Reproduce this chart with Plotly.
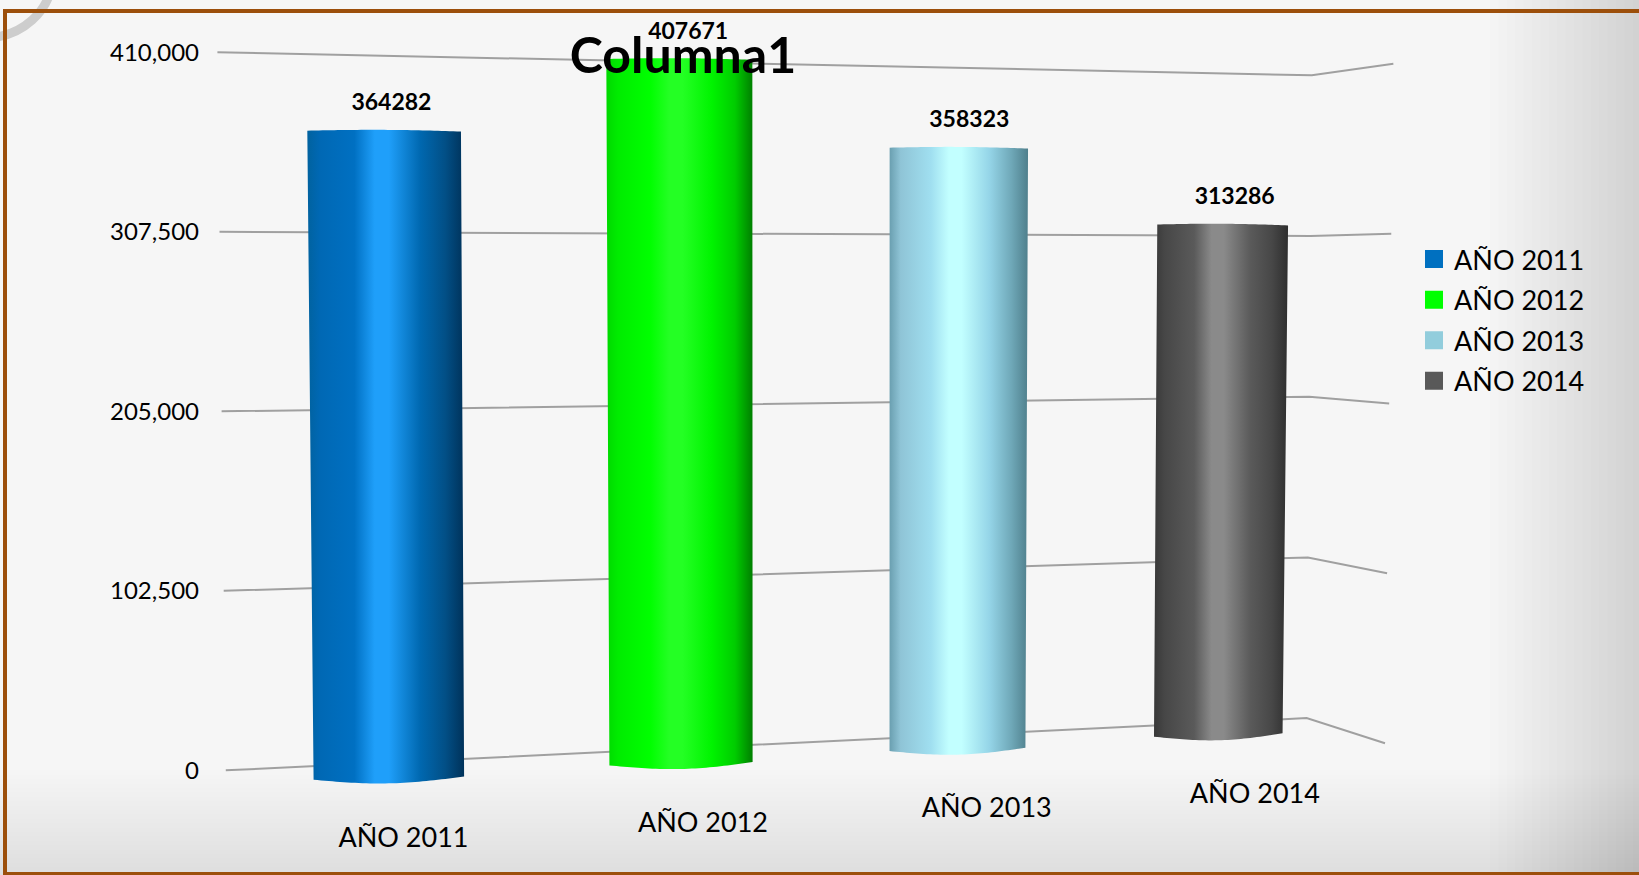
import numpy as np
import plotly.graph_objects as go

# ---------- data ----------
categories = ["AÑO 2011", "AÑO 2012", "AÑO 2013", "AÑO 2014"]
values = [364282, 407671, 358323, 313286]
tick_values = [0, 102500, 205000, 307500, 410000]
title_text = "Columna1"

# ---------- styles ----------
swatch_colors = ["#0070c0", "#00ff00", "#92cddc", "#595959"]
gradients = [
    ["#01629f", "#0068b4", "#0070c2", "#1f9ffa", "#1f9ffa", "#0068b0", "#024f86", "#00325a"],
    ["#00d800", "#00ec00", "#00ff00", "#24ff24", "#24ff24", "#00f400", "#00cc00", "#007f00"],
    ["#6a9fb0", "#8fc4d6", "#a0dff0", "#c2ffff", "#c2ffff", "#95d5e8", "#6fa8b8", "#4f7f8c"],
    ["#383838", "#474747", "#5a5a5a", "#8a8a8a", "#8a8a8a", "#5a5a5a", "#474747", "#2e2e2e"],
]
grad_stops = [0, 0.08, 0.3, 0.43, 0.52, 0.72, 0.88, 1]
FONT = "Lato, Carlito, Calibri, sans-serif"
GRID = "#a0a0a0"

# ---------- perspective model (screen geometry of the 3-D box) ----------
W, H = 1639, 875
K = W / 1568
MARGIN_L = 200
Y0_PX = 737 * K
PX_PER_UNIT = (736 - 49) * K / 410000


def center_bottom(i):
    return K * (372 + 287 * i - 7.5 * i * i)


def center_top(i):
    return center_bottom(i) + K * (-4.5 + 2.9 * i)


def width_bottom(i):
    return K * (144 - 7 * i)


def width_top(i):
    return K * (147 - 7.3 * i)


def floor_value(i):
    return -5371 + 8200 * i


def depth_scale(i):
    return 1.0174 - 0.028 * i


def grid_path(v):
    f = v / 410000
    xs = [K * (216 - 8 * f), K * (1250 + 5 * f), K * (1325 + 8 * f)]
    ys = [v, 29840 + 0.8952 * v, 15517 + 0.9461 * v]
    return xs, ys


def cylinder(i, v):
    t = np.linspace(0, 1, 41)
    base = floor_value(i)
    top = base + v * depth_scale(i)
    xt = center_top(i) - width_top(i) / 2 + t * width_top(i)
    yt = top + 700 * np.sin(np.pi * t) - 500 * t
    xb = center_bottom(i) + width_bottom(i) / 2 - t * width_bottom(i)
    yb = base + 1900 * (1 - t) - 3000 * np.sin(np.pi * t)
    return np.r_[xt, xb, xt[0]], np.r_[yt, yb, yt[0]]


fig = go.Figure()

# wall / floor lines
for v in tick_values:
    xs, ys = grid_path(v)
    fig.add_trace(go.Scatter(x=xs, y=ys, mode="lines", showlegend=False, hoverinfo="skip",
                             line=dict(color=GRID, width=2)))

# cylinders
for i, (cat, v) in enumerate(zip(categories, values)):
    xs, ys = cylinder(i, v)
    fig.add_trace(go.Scatter(
        x=xs, y=ys, mode="none", fill="toself", name=cat, legendgroup=cat, showlegend=False,
        fillgradient=dict(type="horizontal",
                          colorscale=[[s, c] for s, c in zip(grad_stops, gradients[i])]),
        hoveron="fills", text=f"{cat}: {v}", hoverinfo="text"))

# legend entries
for i, cat in enumerate(categories):
    fig.add_trace(go.Scatter(
        x=[None], y=[None], mode="markers", name=cat, legendgroup=cat,
        marker=dict(symbol="square", size=16, color=swatch_colors[i],
                    line=dict(color=swatch_colors[i], width=2))))

# value labels
fig.add_trace(go.Scatter(
    x=[center_top(i) + K * (7 + 1.5 * i) for i in range(4)],
    y=[floor_value(i) + v * depth_scale(i) + 25 * K / PX_PER_UNIT for i, v in enumerate(values)],
    mode="text", text=[str(v) for v in values], textposition="middle center",
    textfont=dict(family=FONT, size=23, color="#000000"), showlegend=False, hoverinfo="skip",
    texttemplate="<b>%{text}</b>"))

# category labels
fig.add_trace(go.Scatter(
    x=[center_bottom(i) + K * (14 + 7 * i) for i in range(4)],
    y=[floor_value(i) - 3400 - (52 - 0.3 * i) * K / PX_PER_UNIT for i in range(4)],
    mode="text", text=categories, textposition="middle center",
    textfont=dict(family=FONT, size=27, color="#000000"), showlegend=False, hoverinfo="skip"))

# ---------- background ----------
PAPER_L = -MARGIN_L / (W - MARGIN_L)


def px_x(x):
    return (x - MARGIN_L) / (W - MARGIN_L)


def px_y(y):
    return 1 - y / H


shapes = []
for k in range(18):  # stone shading on the right
    shapes.append(dict(type="rect", xref="paper", yref="paper", layer="below",
                       x0=px_x(1490 + k * 8.4), x1=1, y0=0, y1=1,
                       fillcolor="rgba(90,85,70,0.011)", line=dict(width=0)))
for k in range(24):  # shading along the bottom
    shapes.append(dict(type="rect", xref="paper", yref="paper", layer="below",
                       x0=PAPER_L, x1=1, y0=0, y1=px_y(770 + k * 4.4),
                       fillcolor="rgba(0,0,0,0.0032)", line=dict(width=0)))
# grey ring in the top-left corner
shapes.append(dict(type="circle", xref="paper", yref="paper", layer="below",
                   x0=px_x(-84), x1=px_x(52), y0=px_y(-84), y1=px_y(38),
                   line=dict(color="#cdcdcd", width=9)))
# brown frame
BROWN = "#9c4f0b"
shapes += [
    dict(type="rect", xref="paper", yref="paper", layer="below",
         x0=px_x(3), x1=1, y0=px_y(13), y1=px_y(9), fillcolor=BROWN, line=dict(width=0)),
    dict(type="rect", xref="paper", yref="paper", layer="below",
         x0=px_x(3), x1=px_x(7), y0=px_y(873), y1=px_y(9), fillcolor=BROWN, line=dict(width=0)),
    dict(type="rect", xref="paper", yref="paper", layer="below",
         x0=px_x(3), x1=1, y0=px_y(875), y1=px_y(872), fillcolor=BROWN, line=dict(width=0)),
]

fig.update_layout(
    width=W, height=H, autosize=False,
    margin=dict(l=MARGIN_L, r=0, t=0, b=0),
    paper_bgcolor="#f6f6f6", plot_bgcolor="rgba(0,0,0,0)",
    font=dict(family=FONT, color="#000000"),
    shapes=shapes,
    hovermode="closest",
    title=dict(text=f"<b>{title_text}</b>", font=dict(family=FONT, size=50, color="#000000"),
               x=683 / W, xanchor="center", xref="container",
               y=1 - 55 / H, yanchor="middle", yref="container"),
    xaxis=dict(range=[MARGIN_L, W], visible=False, fixedrange=True),
    yaxis=dict(range=[-(H - Y0_PX) / PX_PER_UNIT, Y0_PX / PX_PER_UNIT],
               tickvals=tick_values, tickformat=",", showgrid=False, zeroline=False,
               showline=False, ticks="", tickfont=dict(family=FONT, size=24, color="#000000"),
               fixedrange=True),
    legend=dict(x=px_x(1414), xanchor="left",
                y=px_y(235), yanchor="top", bgcolor="rgba(0,0,0,0)",
                font=dict(family=FONT, size=27, color="#000000"),
                tracegroupgap=2.5, itemclick=False, itemdoubleclick=False),
)

fig.write_html("out.html", config={"displayModeBar": False},
               post_script="document.body.style.margin='0';document.body.style.overflow='hidden';")
